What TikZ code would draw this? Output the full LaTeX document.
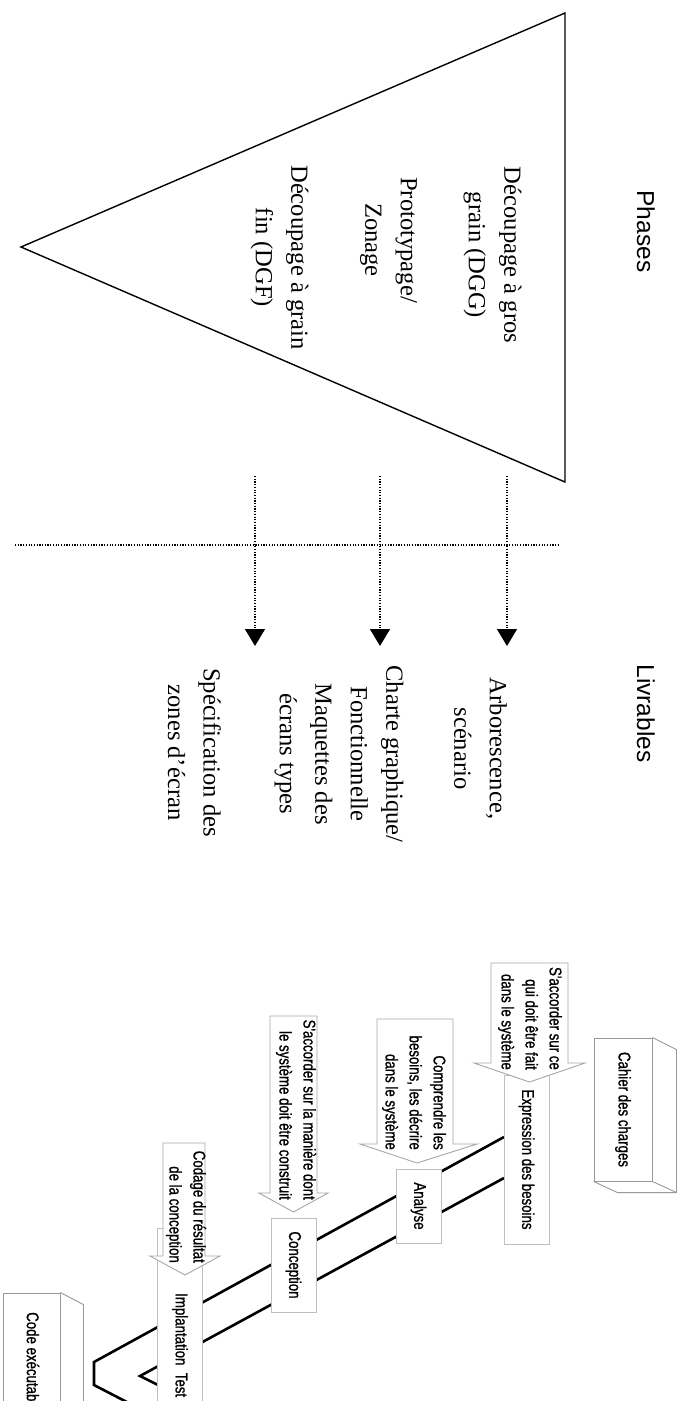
\documentclass[tikz,border=0pt]{standalone}
\usepackage{fontspec}
\setmainfont{Liberation Serif}
\newfontfamily\sansfont{Liberation Sans}
\newfontfamily\narrowfont[FakeStretch=0.78,FakeBold=1]{Liberation Sans}
\usetikzlibrary{arrows.meta}

\begin{document}
\begin{tikzpicture}
[%%%%%%%%%%%%%%%%%%%%%%%%%%%%%%
x=1pt,y=-1pt,
vtext/.style={rotate=-90,inner sep=0pt,align=center},
phase/.style={vtext,font=\fontsize{24.6}{35.5}\selectfont},
title/.style={vtext,font=\sansfont\fontsize{24.5}{29}\selectfont},
dotline/.style={line width=1.2pt,dash pattern=on 1.2pt off 1.5pt},
dotarrow/.style={dotline,-{Triangle[width=20pt,length=17pt]}},
vline/.style={line width=2.6pt},
box/.style={rectangle,draw=gray!50,fill=white,line width=0.9pt,rotate=-90,inner sep=0pt,font=\narrowfont\fontsize{17}{24}\selectfont},
boxd/.style={box,draw=gray!80},
flow/.style={draw=gray!70,fill=white,line width=0.9pt,line join=miter},
flowtext/.style={vtext,align=right,anchor=east,font=\narrowfont\fontsize{17}{24}\selectfont},
]%%%%%%%%%%%%%%%%%%%%%%%%%%%%%%

\useasboundingbox (0,0) rectangle (686,1401);
\clip (0,0) rectangle (686,1401);

% phases
\draw[line width=1.4pt] (565,13) -- (565,482) -- (21,247) -- cycle;
\node[title] (phases) at (646,231.5) {Phases};
\node[phase] (dgg) at (492.5,255) {Découpage à gros\\grain (DGG)};
\node[phase] (proto) at (388.5,240) {Prototypage/\\Zonage};
\node[phase] (dgf) at (279.5,257.5) {Découpage à grain\\fin (DGF)};

% livrables
\coordinate (s1) at (507,476); \coordinate (e1) at (507,646);
\coordinate (s2) at (380,476); \coordinate (e2) at (380,646);
\coordinate (s3) at (255,476); \coordinate (e3) at (255,646);
\coordinate (h1) at (15,545); \coordinate (h2) at (560,545);
\foreach \i in {1,2,3}
\draw[dotarrow] (s\i) -- (e\i);
\draw[dotline] (h1) -- (h2);

\node[title] (livrables) at (646,713.5) {Livrables};
\node[phase] (arbo) at (480.5,748.5) {Arborescence,\\scénario};
\node[phase] (charte) at (339,754) {Charte graphique/\\Fonctionnelle\\Maquettes des\\écrans types};
\node[phase] (spec) at (194.5,752.5) {Spécification des\\zones d'écran};

% cycle en V
\coordinate (u0) at (504,1137); \coordinate (u1) at (94,1362);
\coordinate (u2) at (94,1385); \coordinate (u3) at (150,1414);
\coordinate (l0) at (504,1178); \coordinate (l1) at (140,1376);
\coordinate (l2) at (200,1406);
\draw[vline] (u0) -- (u1) -- (u2) -- (u3);
\draw[vline] (l0) -- (l1) -- (l2);

\node[box,minimum width=169pt,minimum height=45pt] (expr) at (526.5,1159.5) {Expression des besoins};
\node[box,minimum width=74pt,minimum height=45pt] (analyse) at (418.5,1206) {Analyse};
\node[box,minimum width=94pt,minimum height=45pt] (concep) at (293.5,1265) {Conception};
\node[box,minimum width=204pt,minimum height=45pt] (implant) at (179.5,1330) {};
\node[flowtext,anchor=west] (implanttxt) at (180,1293) {Implantation\ \ Test};

\node[boxd,minimum width=143pt,minimum height=58pt] (cahier) at (623,1109.5) {Cahier des charges};
\draw[gray!80,line width=0.9pt] (cahier.north west) -- ++(24,12) coordinate (c1) -- ++(0,143) coordinate (c2) -- ++(-59,0) -- (cahier.south east);
\draw[gray!80,line width=0.9pt] (cahier.north east) -- (c2);

\node[boxd,minimum width=210pt,minimum height=57pt] (code) at (31.5,1398) {};
\draw[gray!80,line width=0.9pt] (code.north west) -- ++(23,12) -- ++(0,200);
\node[flowtext,anchor=west] (codetxt) at (33,1312) {Code exécutab};

\draw[flow] (491,963) -- (568,963) -- (568,1063) -- (585,1063) -- (529.5,1082) -- (474,1063) -- (491,1063) -- cycle;
\draw[flow] (377,1019) -- (453,1019) -- (453,1144) -- (477,1144) -- (417,1163) -- (360,1144) -- (377,1144) -- cycle;
\draw[flow] (270,1016) -- (317,1016) -- (317,1193) -- (328,1193) -- (293.5,1212) -- (259,1193) -- (270,1193) -- cycle;
\draw[flow] (163,1143) -- (205,1143) -- (205,1256) -- (220,1256) -- (185,1275) -- (150,1256) -- (163,1256) -- cycle;

\node[flowtext] (t1) at (530,1070) {S'accorder sur ce\\qui doit être fait\\dans le système};
\node[flowtext] (t2) at (414,1150) {Comprendre les\\besoins, les décrire\\dans le système};
\node[flowtext] (t3) at (296,1200) {S'accorder sur la manière dont\\le système doit être construit};
\node[flowtext] (t4) at (186,1263) {Codage du résultat\\de la conception};
\end{tikzpicture}
\end{document}
